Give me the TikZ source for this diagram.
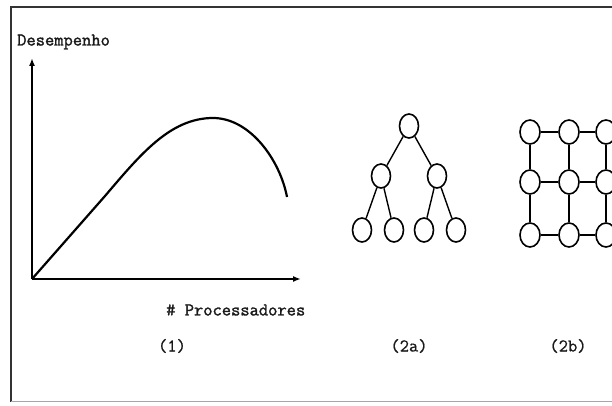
\documentclass[tikz,border=0pt]{standalone}
\usepackage{fontspec}
\newfontfamily\tyfont{Latin Modern Mono}[FakeBold=1.6]
\newfontfamily\tyfontl{Latin Modern Mono}[FakeBold=0.8]
\usetikzlibrary{shapes.geometric,arrows.meta}
\begin{document}
\begin{tikzpicture}[x=1pt,y=-1pt,
  lbl/.style={font=\fontsize{18}{18}\selectfont\tyfont, inner sep=0pt, text=black!90},
  captxt/.style={font=\fontsize{18}{18}\selectfont\tyfontl, inner sep=0pt, text=black!90},
  pe/.style={ellipse, draw, line width=1.6pt, minimum width=19pt, minimum height=24pt, inner sep=0pt},
  link/.style={line width=1.4pt},
  axis/.style={line width=1.8pt, -{Latex[length=8pt,width=6pt]}}]
\useasboundingbox (0,0) rectangle (612,406);
\clip (0,0) rectangle (612,406);
% frame
\draw[line width=1.8pt, black!80] (11,402) -- (11,7) -- (620,7);
\draw[line width=1pt, black!35] (11,401) -- (620,401);
% graph (1)
\coordinate (O) at (32,279);
\coordinate (ytop) at (32,58);
\coordinate (xend) at (301,279);
\draw[axis] (O) -- (ytop);
\draw[axis] (O) -- (xend);
\draw[line width=2.2pt, line join=round] (O) -- (105,196)
  .. controls (140,155) and (170,118) .. (213,118)
  .. controls (250,118) and (280,160) .. (287,197);
\node[lbl, anchor=west] (yl) at (17,42) {Desempenho};
\node[lbl, anchor=west] (xl) at (166,310) {\# Processadores};
\node[captxt] (c1) at (172,346) {(1)};
\node[captxt] (c2a) at (409,346) {(2a)};
\node[captxt] (c2b) at (568,346) {(2b)};
% tree (2a)
\node[pe] (r) at (409,126) {};
\node[pe] (a) at (381,176) {};
\node[pe] (b) at (437,176) {};
\node[pe] (a1) at (362,230) {};
\node[pe] (a2) at (394,230) {};
\node[pe] (b1) at (424,230) {};
\node[pe] (b2) at (456,230) {};
\draw[link] (r) -- (a); \draw[link] (r) -- (b);
\draw[link] (a) -- (a1); \draw[link] (a) -- (a2);
\draw[link] (b) -- (b1); \draw[link] (b) -- (b2);
% grid (2b)
\foreach \c/\x in {1/530,2/569,3/606}{
  \foreach \r/\y in {1/132,2/182,3/235}{
    \node[pe, minimum width=20pt, minimum height=24pt] (g\r\c) at (\x,\y) {};
  }
}
\foreach \r in {1,2,3}{
  \draw[link] (g\r1) -- (g\r2);
  \draw[link] (g\r2) -- (g\r3);
}
\foreach \c in {1,2,3}{
  \draw[link] (g1\c) -- (g2\c);
  \draw[link] (g2\c) -- (g3\c);
}
\end{tikzpicture}
\end{document}
